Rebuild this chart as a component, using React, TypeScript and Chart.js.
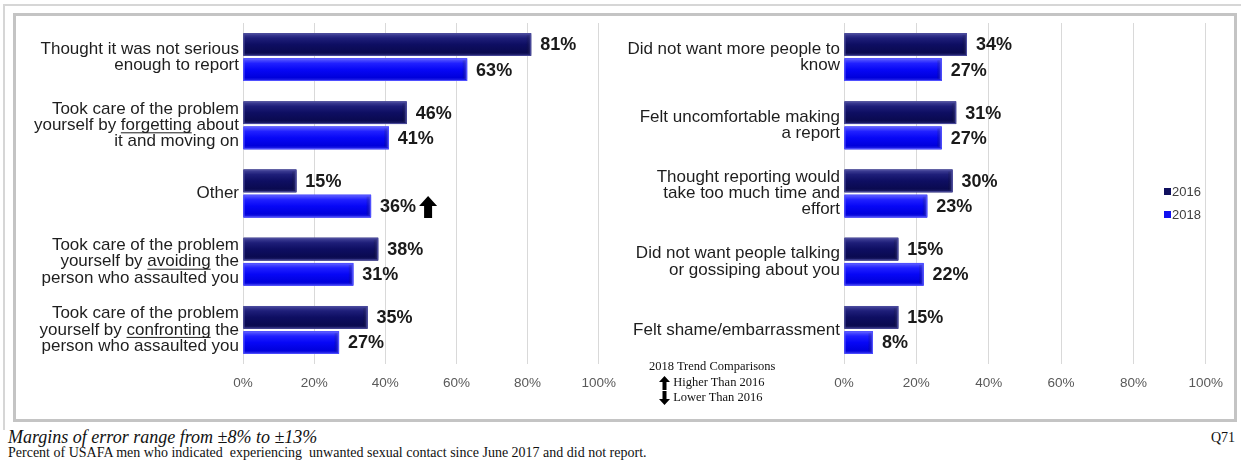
import React, { useEffect, useRef } from "react";
import { Chart, registerables } from "chart.js";

Chart.register(...registerables);

// ---------- data ----------
const leftCategories: string[][] = [
  ["Thought it was not serious", "enough to report"],
  ["Took care of the problem", "yourself by _forgetting_ about", "it and moving on"],
  ["Other"],
  ["Took care of the problem", "yourself by _avoiding_ the", "person who assaulted you"],
  ["Took care of the problem", "yourself by _confronting_ the", "person who assaulted you"],
];
const left2016 = [81, 46, 15, 38, 35];
const left2018 = [63, 41, 36, 31, 27];
const leftTrend = ["", "", "up", "", ""];

const rightCategories: string[][] = [
  ["Did not want more people to", "know"],
  ["Felt uncomfortable making", "a report"],
  ["Thought reporting would", "take too much time and", "effort"],
  ["Did not want people talking", "or gossiping about you"],
  ["Felt shame/embarrassment"],
];
const right2016 = [34, 31, 30, 15, 15];
const right2018 = [27, 27, 23, 22, 8];
const rightTrend = ["", "", "", "", ""];

const xTickValues = [0, 20, 40, 60, 80, 100];
const seriesNames = ["2016", "2018"];
const trendTitle = "2018 Trend Comparisons";
const trendHigher = "Higher Than 2016";
const trendLower = "Lower Than 2016";
const footnoteMargins = "Margins of error range from \u00b18% to \u00b113%";
const footnoteText =
  "Percent of USAFA men who indicated  experiencing  unwanted sexual contact since June 2017 and did not report.";
const questionId = "Q71";

// ---------- styles ----------
const SANS = '"Liberation Sans", Arial, Helvetica, sans-serif';
const SERIF = '"Liberation Serif", "Times New Roman", Times, serif';
const DARK = "#10105e";
const BLUE = "#1010f0";
const DARK_STOPS: [number, string][] = [
  [0, "#5a5aa8"],
  [0.08, "#38388f"],
  [0.22, "#1e1e79"],
  [0.5, "#0e0e62"],
  [0.85, "#0a0a50"],
  [1, "#24246e"],
];
const BLUE_STOPS: [number, string][] = [
  [0, "#7c7cff"],
  [0.08, "#4a4aff"],
  [0.22, "#2020ff"],
  [0.5, "#0707f6"],
  [0.85, "#0000dc"],
  [1, "#2c2ce8"],
];

function makePlugin(categories: string[][], trend: string[]) {
  return {
    id: "customDraw",
    afterDatasetsDraw(chart: any) {
      const ctx: CanvasRenderingContext2D = chart.ctx;
      chart.data.datasets.forEach((ds: any, di: number) => {
        const meta = chart.getDatasetMeta(di);
        const stops = di === 0 ? DARK_STOPS : BLUE_STOPS;
        meta.data.forEach((el: any, i: number) => {
          const { x, y, base, height } = el.getProps(["x", "y", "base", "height"], true);
          const top = y - height / 2;
          const w = x - base;
          ctx.save();
          const g = ctx.createLinearGradient(0, top, 0, top + height);
          stops.forEach(([o, c]) => g.addColorStop(o, c));
          ctx.fillStyle = g;
          ctx.fillRect(base, top, w, height);
          const gr = ctx.createLinearGradient(x - 5, 0, x, 0);
          gr.addColorStop(0, "rgba(0,0,0,0)");
          gr.addColorStop(1, di === 0 ? "rgba(90,90,170,0.6)" : "rgba(120,120,255,0.6)");
          ctx.fillStyle = gr;
          ctx.fillRect(x - 5, top + 2, 5, height - 4);
          ctx.strokeStyle = di === 0 ? "#4a4a9c" : "#5050ff";
          ctx.lineWidth = 1;
          ctx.strokeRect(base + 0.5, top + 0.5, w - 1, height - 1);
          ctx.restore();

          // value label
          ctx.save();
          ctx.font = `bold 18px ${SANS}`;
          ctx.fillStyle = "#1a1a1a";
          ctx.textAlign = "left";
          ctx.textBaseline = "middle";
          const txt = ds.data[i] + "%";
          const tx = x + 9;
          ctx.fillText(txt, tx, y + 1);
          if (di === 1 && trend[i]) {
            const tw = ctx.measureText(txt).width;
            const cx = tx + tw + 12;
            const ah = 22;
            const at = y - ah / 2 + 1;
            ctx.fillStyle = "#000";
            ctx.beginPath();
            if (trend[i] === "up") {
              ctx.moveTo(cx, at);
              ctx.lineTo(cx + 9, at + 10);
              ctx.lineTo(cx + 4, at + 10);
              ctx.lineTo(cx + 4, at + ah);
              ctx.lineTo(cx - 4, at + ah);
              ctx.lineTo(cx - 4, at + 10);
              ctx.lineTo(cx - 9, at + 10);
            } else {
              ctx.moveTo(cx, at + ah);
              ctx.lineTo(cx + 9, at + ah - 10);
              ctx.lineTo(cx + 4, at + ah - 10);
              ctx.lineTo(cx + 4, at);
              ctx.lineTo(cx - 4, at);
              ctx.lineTo(cx - 4, at + ah - 10);
              ctx.lineTo(cx - 9, at + ah - 10);
            }
            ctx.closePath();
            ctx.fill();
          }
          ctx.restore();
        });
      });
    },
    afterDraw(chart: any) {
      const ctx: CanvasRenderingContext2D = chart.ctx;
      const yScale = chart.scales.y;
      const xr = chart.chartArea.left - 4;
      const lh = 16.3;
      ctx.save();
      ctx.font = `17px ${SANS}`;
      ctx.fillStyle = "#1e1e1e";
      ctx.textAlign = "right";
      ctx.textBaseline = "middle";
      categories.forEach((lines, i) => {
        const cy = yScale.getPixelForValue(i);
        lines.forEach((line, j) => {
          const ly = cy + (j - (lines.length - 1) / 2) * lh;
          const plain = line.replace(/_/g, "");
          ctx.fillText(plain, xr, ly);
          const m = line.match(/^(.*?)_(.*?)_(.*)$/);
          if (m) {
            const total = ctx.measureText(plain).width;
            const sx = xr - total + ctx.measureText(m[1]).width;
            const uw = ctx.measureText(m[2]).width;
            ctx.fillRect(sx, ly + 7, uw, 1);
          }
        });
      });
      ctx.restore();
    },
  };
}

function buildConfig(
  categories: string[][],
  d16: number[],
  d18: number[],
  trend: string[],
  axisWidth: number,
  padRight: number
): any {
  return {
    type: "bar",
    data: {
      labels: categories.map((c) => c.join(" ").replace(/_/g, "")),
      datasets: [
        {
          label: seriesNames[0],
          data: d16,
          backgroundColor: DARK,
          borderWidth: 0,
          barPercentage: 0.9,
          categoryPercentage: 0.738,
        },
        {
          label: seriesNames[1],
          data: d18,
          backgroundColor: BLUE,
          borderWidth: 0,
          barPercentage: 0.9,
          categoryPercentage: 0.738,
        },
      ],
    },
    options: {
      indexAxis: "y",
      animation: false,
      responsive: false,
      maintainAspectRatio: false,
      devicePixelRatio: 1,
      layout: { padding: { left: 0, right: padRight, top: 7, bottom: 16 } },
      plugins: {
        legend: { display: false },
        tooltip: { enabled: false },
        title: { display: false },
      },
      scales: {
        x: {
          type: "linear",
          min: 0,
          max: 100,
          afterBuildTicks: (s: any) => {
            s.ticks = xTickValues.map((v) => ({ value: v }));
          },
          afterFit: (s: any) => {
            s.height = 40;
          },
          ticks: {
            callback: (v: any) => v + "%",
            color: "#595959",
            font: { size: 13.5, family: SANS },
            padding: 11,
            maxRotation: 0,
            autoSkip: false,
          },
          grid: { color: "#d9d9d9", lineWidth: 1, drawTicks: false },
          border: { display: false },
        },
        y: {
          type: "category",
          ticks: { display: false },
          grid: { display: false, drawTicks: false },
          border: { display: false },
          afterFit: (s: any) => {
            s.width = axisWidth;
          },
        },
      },
    },
    plugins: [makePlugin(categories, trend)],
  };
}

const UpArrow = ({ down }: { down?: boolean }) => (
  <svg width="11" height="14" viewBox="0 0 11 14" style={{ display: "inline-block", verticalAlign: "middle" }}>
    <path
      d={down ? "M5.5 14 L11 8 L7.5 8 L7.5 0 L3.5 0 L3.5 8 L0 8 Z" : "M5.5 0 L11 6 L7.5 6 L7.5 14 L3.5 14 L3.5 6 L0 6 Z"}
      fill="#000"
    />
  </svg>
);

export default function App() {
  const leftRef = useRef<HTMLCanvasElement | null>(null);
  const rightRef = useRef<HTMLCanvasElement | null>(null);

  useEffect(() => {
    const c1 = new Chart(
      leftRef.current as HTMLCanvasElement,
      buildConfig(leftCategories, left2016, left2018, leftTrend, 227, 18)
    );
    const c2 = new Chart(
      rightRef.current as HTMLCanvasElement,
      buildConfig(rightCategories, right2016, right2018, rightTrend, 224, 15)
    );
    return () => {
      c1.destroy();
      c2.destroy();
    };
  }, []);

  return (
    <div
      style={{
        position: "fixed",
        left: 0,
        top: 0,
        width: 1241,
        height: 465,
        background: "#fff",
        overflow: "hidden",
      }}
    >
      <div
        style={{
          position: "absolute",
          left: 3,
          top: 4,
          width: 1238,
          height: 426,
          borderTop: "2px solid #d6d6d6",
          borderLeft: "2px solid #d6d6d6",
          boxSizing: "border-box",
        }}
      />
      <div
        style={{
          position: "absolute",
          left: 13,
          top: 13,
          width: 1224,
          height: 409,
          border: "3px solid #c4c4c4",
          boxSizing: "border-box",
          background: "#fff",
        }}
      />
      <canvas
        ref={leftRef}
        width={611}
        height={404}
        style={{ position: "absolute", left: 16, top: 16, width: 611, height: 404 }}
      />
      <canvas
        ref={rightRef}
        width={614}
        height={404}
        style={{ position: "absolute", left: 620, top: 16, width: 614, height: 404 }}
      />
      {seriesNames.map((name, i) => (
        <div
          key={name}
          style={{
            position: "absolute",
            left: 1164,
            top: 184 + i * 23,
            height: 17,
            lineHeight: "17px",
            font: `13px ${SANS}`,
            color: "#404040",
            whiteSpace: "nowrap",
          }}
        >
          <span
            style={{
              display: "inline-block",
              width: 7,
              height: 7,
              background: i === 0 ? DARK : BLUE,
              marginRight: 1,
              verticalAlign: "middle",
              position: "relative",
              top: -1,
            }}
          />
          {name}
        </div>
      ))}
      <div
        style={{
          position: "absolute",
          left: 649,
          top: 359,
          font: `12.5px ${SERIF}`,
          color: "#111",
          lineHeight: "15.5px",
          whiteSpace: "nowrap",
        }}
      >
        <div>{trendTitle}</div>
        <div style={{ paddingLeft: 10 }}>
          <UpArrow /> <span>{trendHigher}</span>
        </div>
        <div style={{ paddingLeft: 10 }}>
          <UpArrow down /> <span>{trendLower}</span>
        </div>
      </div>
      <div
        style={{
          position: "absolute",
          left: 8,
          top: 427,
          font: `italic 18px ${SERIF}`,
          color: "#111",
          whiteSpace: "nowrap",
          lineHeight: "20px",
        }}
      >
        {footnoteMargins}
      </div>
      <div
        style={{
          position: "absolute",
          left: 8,
          top: 445,
          font: `14px ${SERIF}`,
          color: "#111",
          whiteSpace: "pre",
          lineHeight: "16px",
        }}
      >
        {footnoteText}
      </div>
      <div
        style={{
          position: "absolute",
          right: 6,
          top: 429,
          font: `14px ${SERIF}`,
          color: "#111",
          lineHeight: "18px",
        }}
      >
        {questionId}
      </div>
    </div>
  );
}
